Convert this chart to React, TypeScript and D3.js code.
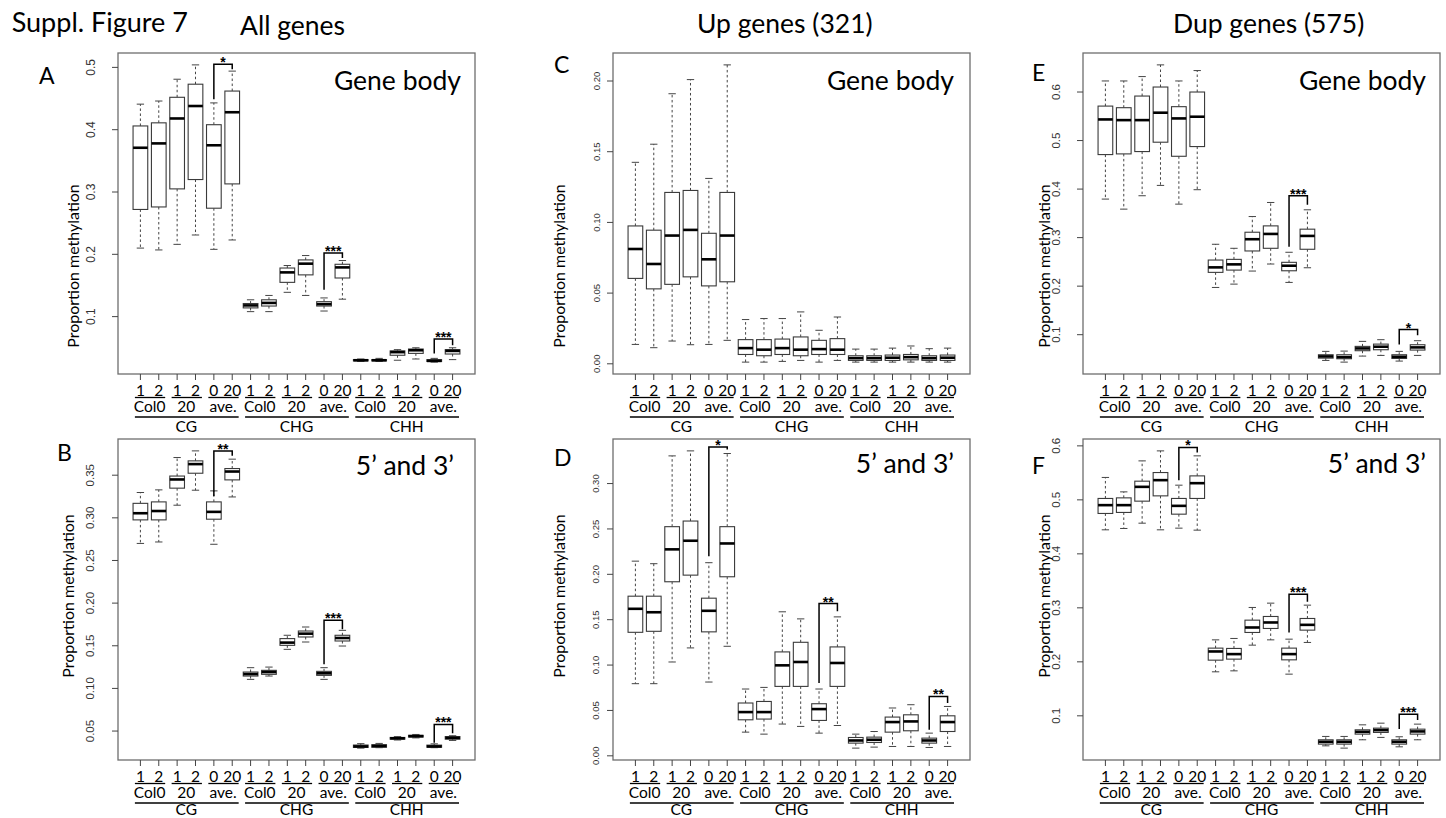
import React from "react";
import * as d3 from "d3";

// ---------- labels ----------
const row1Labels = ["1", "2", "1", "2", "0", "20", "1", "2", "1", "2", "0", "20", "1", "2", "1", "2", "0", "20"];
const row2Labels = ["Col0", "20", "ave."];
const row3Labels = ["CG", "CHG", "CHH"];
const columnTitles = ["All genes", "Up genes (321)", "Dup genes (575)"];

// ---------- box statistics: [lower whisker, Q1, median, Q3, upper whisker] ----------
const boxesA = [
  [0.210, 0.272, 0.371, 0.406, 0.441], [0.207, 0.276, 0.378, 0.411, 0.446],
  [0.216, 0.305, 0.418, 0.452, 0.481], [0.231, 0.320, 0.438, 0.473, 0.504],
  [0.208, 0.274, 0.375, 0.408, 0.443], [0.223, 0.313, 0.428, 0.462, 0.494],
  [0.108, 0.114, 0.118, 0.121, 0.127], [0.108, 0.117, 0.122, 0.127, 0.134],
  [0.139, 0.155, 0.171, 0.178, 0.182], [0.134, 0.167, 0.185, 0.191, 0.198],
  [0.109, 0.117, 0.120, 0.124, 0.130], [0.128, 0.162, 0.179, 0.184, 0.190],
  [0.028, 0.029, 0.030, 0.031, 0.032], [0.028, 0.029, 0.030, 0.031, 0.033],
  [0.030, 0.038, 0.043, 0.045, 0.047], [0.032, 0.041, 0.046, 0.048, 0.050],
  [0.027, 0.028, 0.029, 0.031, 0.033], [0.031, 0.040, 0.045, 0.047, 0.050],
];
const boxesB = [
  [0.270, 0.2976, 0.3054, 0.317, 0.3297], [0.2717, 0.2976, 0.308, 0.3187, 0.3328],
  [0.3148, 0.3348, 0.345, 0.349, 0.3707], [0.3324, 0.3523, 0.363, 0.3668, 0.3785],
  [0.269, 0.2984, 0.307, 0.3187, 0.3316], [0.3245, 0.3445, 0.3543, 0.3578, 0.3688],
  [0.1106, 0.1145, 0.1168, 0.1192, 0.1243], [0.1145, 0.1165, 0.1192, 0.1212, 0.125],
  [0.1458, 0.1505, 0.1537, 0.1584, 0.1623], [0.1544, 0.1603, 0.1642, 0.1673, 0.172],
  [0.1106, 0.1153, 0.1177, 0.12, 0.1243], [0.1497, 0.1556, 0.1591, 0.1623, 0.1681],
  [0.030, 0.0308, 0.032, 0.0336, 0.0352], [0.0305, 0.031, 0.0325, 0.034, 0.0355],
  [0.0395, 0.0405, 0.0415, 0.0425, 0.0435], [0.042, 0.043, 0.044, 0.045, 0.046],
  [0.0305, 0.031, 0.032, 0.0335, 0.035], [0.039, 0.0405, 0.042, 0.0435, 0.0445],
];
const boxesC = [
  [0.0137, 0.0604, 0.0812, 0.0975, 0.1425], [0.0114, 0.053, 0.0706, 0.0945, 0.1553],
  [0.0161, 0.0562, 0.0907, 0.1212, 0.191], [0.0135, 0.0615, 0.0947, 0.1226, 0.201],
  [0.0137, 0.0551, 0.0739, 0.0923, 0.1311], [0.0166, 0.058, 0.0907, 0.1212, 0.2114],
  [0.0012, 0.0066, 0.0111, 0.0171, 0.0313], [0.0012, 0.0057, 0.010, 0.0171, 0.032],
  [0.0017, 0.0066, 0.0111, 0.0175, 0.032], [0.0024, 0.0057, 0.010, 0.019, 0.0367],
  [0.0012, 0.0066, 0.0104, 0.0166, 0.0237], [0.0024, 0.0066, 0.010, 0.0178, 0.0331],
  [0.0012, 0.0024, 0.004, 0.0057, 0.0104], [0.0012, 0.0024, 0.004, 0.0057, 0.0104],
  [0.0012, 0.0024, 0.0043, 0.0062, 0.0111], [0.0012, 0.0028, 0.0047, 0.0066, 0.0126],
  [0.0012, 0.0024, 0.004, 0.0057, 0.0107], [0.0012, 0.0024, 0.0043, 0.0062, 0.0111],
];
const boxesD = [
  [0.0795, 0.1361, 0.162, 0.1759, 0.2145], [0.0795, 0.1372, 0.1582, 0.1759, 0.2117],
  [0.1034, 0.1918, 0.2275, 0.2525, 0.3305], [0.1189, 0.1991, 0.237, 0.2587, 0.336],
  [0.0813, 0.1366, 0.1598, 0.1737, 0.2128], [0.1207, 0.1973, 0.234, 0.2525, 0.3331],
  [0.0261, 0.0397, 0.0482, 0.0582, 0.0736], [0.0239, 0.0405, 0.0482, 0.0599, 0.0754],
  [0.035, 0.0765, 0.0997, 0.1145, 0.1587], [0.0324, 0.0765, 0.1034, 0.1251, 0.1509],
  [0.025, 0.039, 0.0515, 0.0574, 0.0736], [0.0334, 0.0765, 0.1023, 0.12, 0.1531],
  [0.0085, 0.014, 0.0169, 0.0202, 0.0239], [0.0096, 0.0147, 0.0177, 0.0206, 0.0268],
  [0.0103, 0.0261, 0.0372, 0.0427, 0.0527], [0.0103, 0.0276, 0.0379, 0.0452, 0.0563],
  [0.0092, 0.014, 0.0169, 0.0195, 0.025], [0.0103, 0.0268, 0.0372, 0.0441, 0.0544],
];
const boxesE = [
  [0.3794, 0.4711, 0.5435, 0.571, 0.6228], [0.3587, 0.4725, 0.5421, 0.5677, 0.6228],
  [0.3863, 0.4773, 0.5421, 0.5917, 0.6318], [0.4076, 0.4966, 0.5574, 0.6103, 0.6559],
  [0.369, 0.4676, 0.5456, 0.5698, 0.6228], [0.3987, 0.4876, 0.5491, 0.600, 0.6442],
  [0.1973, 0.2284, 0.2387, 0.2538, 0.2863], [0.2042, 0.2331, 0.2449, 0.2552, 0.278],
  [0.2311, 0.2725, 0.2967, 0.3111, 0.3434], [0.2456, 0.278, 0.3076, 0.3242, 0.3724],
  [0.2077, 0.2317, 0.2421, 0.2491, 0.2698], [0.2379, 0.276, 0.3035, 0.3174, 0.3573],
  [0.047, 0.0517, 0.0552, 0.0587, 0.0656], [0.0435, 0.0504, 0.0538, 0.0587, 0.0662],
  [0.0559, 0.067, 0.0717, 0.0759, 0.0862], [0.0573, 0.069, 0.0752, 0.0806, 0.0897],
  [0.0456, 0.051, 0.0545, 0.0587, 0.0656], [0.0573, 0.0683, 0.0738, 0.0793, 0.0876],
];
const boxesF = [
  [0.4445, 0.4748, 0.4902, 0.5026, 0.5415], [0.447, 0.4767, 0.4902, 0.5037, 0.5148],
  [0.4568, 0.4976, 0.5241, 0.5346, 0.5722], [0.4445, 0.5074, 0.5365, 0.5506, 0.5907],
  [0.4476, 0.4735, 0.4889, 0.5026, 0.5272], [0.4439, 0.5026, 0.5309, 0.5444, 0.5815],
  [0.1815, 0.2031, 0.2192, 0.2254, 0.2407], [0.1833, 0.205, 0.2143, 0.2248, 0.2433],
  [0.2309, 0.2544, 0.2636, 0.2772, 0.3007], [0.2407, 0.2618, 0.2729, 0.284, 0.3087],
  [0.1772, 0.2037, 0.2143, 0.2254, 0.242], [0.2359, 0.2587, 0.2685, 0.2803, 0.305],
  [0.0444, 0.0476, 0.0519, 0.0556, 0.0618], [0.0402, 0.0476, 0.0519, 0.0556, 0.0618],
  [0.0556, 0.0661, 0.0704, 0.0741, 0.0833], [0.060, 0.0692, 0.0735, 0.0772, 0.0864],
  [0.0426, 0.0476, 0.0519, 0.0556, 0.0612], [0.0556, 0.0661, 0.0711, 0.0753, 0.0846],
];

// ---------- significance brackets: [left box, right box, bar value, left leg end, right leg end, label] ----------
const bracketsA = [[5, 6, 0.505, 0.449, 0.497, "*"], [11, 12, 0.202, 0.143, 0.194, "***"], [17, 18, 0.064, 0.041, 0.054, "***"]];
const bracketsB = [[5, 6, 0.3785, 0.3257, 0.3727, "**"], [11, 12, 0.180, 0.1282, 0.1693, "***"], [17, 18, 0.0578, 0.0363, 0.0473, "***"]];
const bracketsC: any[] = [];
const bracketsD = [[5, 6, 0.3404, 0.22, 0.3375, "*"], [11, 12, 0.1678, 0.0803, 0.1593, "**"], [17, 18, 0.0655, 0.0287, 0.0582, "**"]];
const bracketsE = [[11, 12, 0.3863, 0.2814, 0.3676, "***"], [17, 18, 0.1105, 0.08, 0.0986, "*"]];
const bracketsF = [[5, 6, 0.597, 0.5365, 0.5877, "*"], [11, 12, 0.3254, 0.2544, 0.3111, "***"], [17, 18, 0.1031, 0.0754, 0.0921, "***"]];

// ---------- y ticks ----------
const ticksA = [0.1, 0.2, 0.3, 0.4, 0.5];
const ticksB = [0.05, 0.10, 0.15, 0.20, 0.25, 0.30, 0.35];
const ticksC = [0.00, 0.05, 0.10, 0.15, 0.20];
const ticksD = [0.00, 0.05, 0.10, 0.15, 0.20, 0.25, 0.30];
const ticksE = [0.1, 0.2, 0.3, 0.4, 0.5, 0.6];
const ticksF = [0.1, 0.2, 0.3, 0.4, 0.5, 0.6];

// ---------- layout (style only) ----------
const FONT = "Lato, 'Open Sans', sans-serif";
const LBL = 15.5;
const PW = 357;
const PH = 321;
const panels = [
  { letter: "A", boxes: boxesA, brackets: bracketsA, ticks: ticksA, dec: 1, corner: "Gene body", left: 118, top: 53, lx: 39, ly: 84, tOff: 27, tFont: 12, yOff: 46, yc: 266, cx: 461, cy: 90, r3: 57.5 },
  { letter: "B", boxes: boxesB, brackets: bracketsB, ticks: ticksB, dec: 2, corner: "5\u2019 and 3\u2019", left: 118, top: 439, lx: 57, ly: 461, tOff: 28, tFont: 11.5, yOff: 51, yc: 596, cx: 454, cy: 475, r3: 54.5 },
  { letter: "C", boxes: boxesC, brackets: bracketsC, ticks: ticksC, dec: 2, corner: "Gene body", left: 613, top: 53, lx: 554, ly: 73, tOff: 17, tFont: 9.5, yOff: 55, yc: 266, cx: 954, cy: 90, r3: 57.5 },
  { letter: "D", boxes: boxesD, brackets: bracketsD, ticks: ticksD, dec: 2, corner: "5\u2019 and 3\u2019", left: 613, top: 439, lx: 554, ly: 466, tOff: 18, tFont: 9.5, yOff: 55, yc: 596, cx: 954, cy: 473, r3: 54.5 },
  { letter: "E", boxes: boxesE, brackets: bracketsE, ticks: ticksE, dec: 1, corner: "Gene body", left: 1083, top: 53, lx: 1032, ly: 81, tOff: 27, tFont: 11.5, yOff: 40, yc: 266, cx: 1426, cy: 90, r3: 57.5 },
  { letter: "F", boxes: boxesF, brackets: bracketsF, ticks: ticksF, dec: 1, corner: "5\u2019 and 3\u2019", left: 1083, top: 439, lx: 1032, ly: 474, tOff: 27, tFont: 11.5, yOff: 40, yc: 596, cx: 1426, cy: 473, r3: 54.5 },
];
const titlePos = [[240, 35], [697, 33.3], [1173, 33.3]];

function Panel({ p }: { p: any }) {
  const n = p.boxes.length;
  const x = d3.scaleLinear().domain([0.5 - 0.04 * n, n + 0.5 + 0.04 * n]).range([p.left, p.left + PW]);
  const all = p.boxes.flat();
  const [mn, mx] = d3.extent(all) as [number, number];
  const r = mx - mn;
  const y = d3.scaleLinear().domain([mn - 0.04 * r, mx + 0.04 * r]).range([p.top + PH, p.top]);
  const unit = x(2) - x(1);
  const bw = 0.8 * unit;
  const bottom = p.top + PH;
  const fmt = d3.format(`.${p.dec}f`);
  const pairs = d3.range(9);
  const groups = d3.range(3);

  return (
    <g>
      <rect x={p.left} y={p.top} width={PW} height={PH} fill="none" stroke="#6e6e6e" strokeWidth={1.3} />
      {p.ticks.map((t: number, i: number) => (
        <g key={"yt" + i}>
          <line x1={p.left - 6} x2={p.left} y1={y(t)} y2={y(t)} stroke="#444" strokeWidth={1} />
          <text
            transform={`translate(${p.left - p.tOff},${y(t)}) rotate(-90)`}
            textAnchor="middle"
            dominantBaseline="central"
            fontFamily="'Liberation Sans', Arial, sans-serif"
            fontSize={p.tFont}
            fill="#333"
          >
            {fmt(t)}
          </text>
        </g>
      ))}
      <text
        transform={`translate(${p.left - p.yOff},${p.yc}) rotate(-90)`}
        textAnchor="middle"
        dominantBaseline="central"
        fontFamily={FONT}
        fontSize={16}
        fill="#000"
      >
        Proportion methylation
      </text>
      {p.boxes.map((b: number[], i: number) => {
        const cx = x(i + 1);
        const [lw, q1, md, q3, uw] = b;
        return (
          <g key={"b" + i}>
            <line x1={cx} x2={cx} y1={y(q1)} y2={y(lw)} stroke="#444" strokeWidth={1} strokeDasharray="2.5,2.5" />
            <line x1={cx} x2={cx} y1={y(q3)} y2={y(uw)} stroke="#444" strokeWidth={1} strokeDasharray="2.5,2.5" />
            <line x1={cx - bw / 4} x2={cx + bw / 4} y1={y(lw)} y2={y(lw)} stroke="#444" strokeWidth={1} />
            <line x1={cx - bw / 4} x2={cx + bw / 4} y1={y(uw)} y2={y(uw)} stroke="#444" strokeWidth={1} />
            <rect x={cx - bw / 2} y={y(q3)} width={bw} height={Math.max(0.5, y(q1) - y(q3))} fill="#fff" stroke="#3a3a3a" strokeWidth={1.1} />
            <line x1={cx - bw / 2} x2={cx + bw / 2} y1={y(md)} y2={y(md)} stroke="#000" strokeWidth={2.6} />
          </g>
        );
      })}
      {p.brackets.map((br: any[], i: number) => {
        const xl = x(br[0]);
        const xr = x(br[1]);
        return (
          <g key={"br" + i}>
            <path d={`M${xl},${y(br[3])}V${y(br[2])}H${xr}V${y(br[4])}`} fill="none" stroke="#000" strokeWidth={1.5} />
            <text x={(xl + xr) / 2} y={y(br[2]) + 3} textAnchor="middle" fontFamily="'Liberation Sans', Arial, sans-serif" fontWeight="bold" fontSize={14} fill="#000">
              {br[5]}
            </text>
          </g>
        );
      })}
      {p.boxes.map((_: any, i: number) => (
        <g key={"xt" + i}>
          <line x1={x(i + 1)} x2={x(i + 1)} y1={bottom} y2={bottom + 6} stroke="#444" strokeWidth={1} />
          <text x={x(i + 1)} y={bottom + 21.5} textAnchor="middle" fontFamily={FONT} fontSize={LBL} fill="#000">
            {row1Labels[i]}
          </text>
        </g>
      ))}
      {pairs.map((k) => {
        const a = x(2 * k + 1);
        const b = x(2 * k + 2);
        return (
          <g key={"pr" + k}>
            <line x1={a - 0.3 * unit} x2={b + 0.35 * unit} y1={bottom + 23.5} y2={bottom + 23.5} stroke="#000" strokeWidth={1.3} />
            <text x={(a + b) / 2} y={bottom + 37.5} textAnchor="middle" fontFamily={FONT} fontSize={LBL} fill="#000">
              {row2Labels[k % 3]}
            </text>
          </g>
        );
      })}
      {groups.map((g) => {
        const a = x(6 * g + 1);
        const b = x(6 * g + 6);
        return (
          <g key={"gr" + g}>
            <line x1={a - 0.3 * unit} x2={b + 0.35 * unit} y1={bottom + 43} y2={bottom + 43} stroke="#000" strokeWidth={1.3} />
            <text x={(a + b) / 2} y={bottom + p.r3} textAnchor="middle" fontFamily={FONT} fontSize={LBL} fill="#000">
              {row3Labels[g]}
            </text>
          </g>
        );
      })}
      <text x={p.cx} y={p.cy} textAnchor="end" fontFamily={FONT} fontSize={26.5} fill="#000">
        {p.corner}
      </text>
      <text x={p.lx} y={p.ly} fontFamily={FONT} fontSize={23} fill="#000">
        {p.letter}
      </text>
    </g>
  );
}

export default function App() {
  return (
    <svg width={1446} height={818} style={{ position: "absolute", left: 0, top: 0, background: "#fff" }}>
      <rect x={0} y={0} width={1446} height={818} fill="#fff" />
      <text x={11.7} y={31.7} fontFamily={FONT} fontSize={27} fill="#000">
        Suppl. Figure 7
      </text>
      {columnTitles.map((t, i) => (
        <text key={t} x={titlePos[i][0]} y={titlePos[i][1]} fontFamily={FONT} fontSize={26.5} fill="#000">
          {t}
        </text>
      ))}
      {panels.map((p) => (
        <Panel key={p.letter} p={p} />
      ))}
    </svg>
  );
}
